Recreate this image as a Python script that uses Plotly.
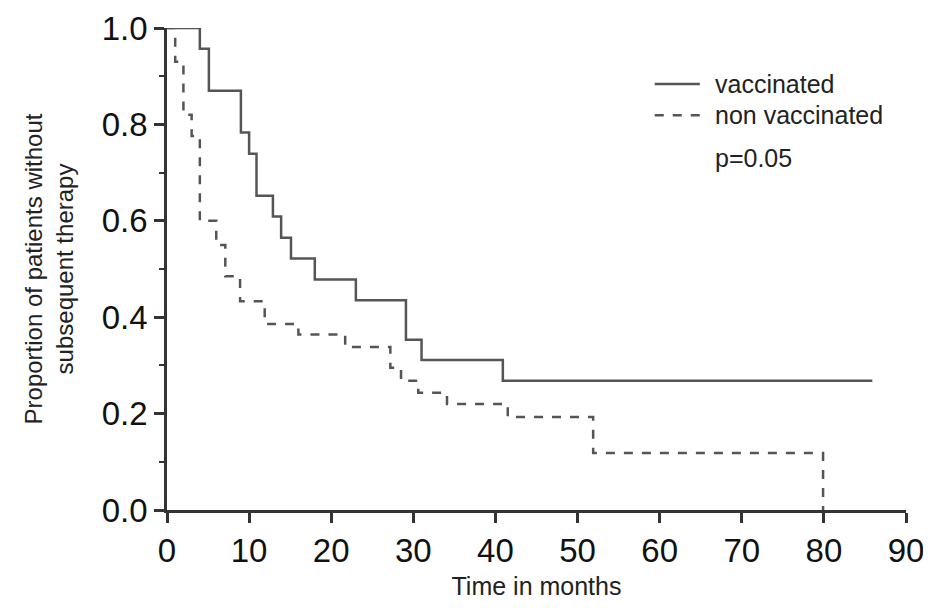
import plotly.graph_objects as go

# Kaplan-Meier step points (month, proportion)
vacc_t = [0, 4.0, 5.1, 9.0, 10.0, 10.9, 12.9, 13.9, 15.1, 18.0, 23.0, 29.1, 31.0, 40.9, 85.9]
vacc_s = [1.0, 0.957, 0.870, 0.783, 0.739, 0.652, 0.609, 0.565, 0.522, 0.478, 0.435, 0.353, 0.311, 0.268, 0.268]

nonv_t = [0, 1.0, 2.0, 3.0, 4.0, 6.0, 7.1, 8.9, 11.9, 16.0, 21.7, 27.2, 28.5, 30.6, 34.1, 41.5, 51.9, 79.9]
nonv_s = [1.0, 0.93, 0.82, 0.776, 0.60, 0.55, 0.485, 0.433, 0.386, 0.364, 0.338, 0.295, 0.268, 0.243, 0.22, 0.193, 0.118, 0.0]

font = 'Liberation Sans, Arial, sans-serif'
ink = '#555555'

fig = go.Figure()
fig.add_trace(go.Scatter(x=vacc_t, y=vacc_s, mode='lines', line_shape='hv',
                         name='vaccinated', line=dict(color=ink, width=2.5)))
fig.add_trace(go.Scatter(x=nonv_t, y=nonv_s, mode='lines', line_shape='hv',
                         name='non vaccinated', line=dict(color=ink, width=2.5, dash='dash')))

# hand-made legend
fig.add_shape(type='line', xref='paper', yref='paper', x0=0.660, x1=0.721, y0=0.884, y1=0.884,
              line=dict(color=ink, width=2.5))
fig.add_shape(type='line', xref='paper', yref='paper', x0=0.660, x1=0.721, y0=0.819, y1=0.819,
              line=dict(color=ink, width=2.5, dash='dash'))
for txt, yy in [('vaccinated', 0.884), ('non vaccinated', 0.819), ('p=0.05', 0.73)]:
    fig.add_annotation(text=txt, xref='paper', yref='paper', x=0.739, y=yy,
                       xanchor='left', yanchor='middle', showarrow=False,
                       font=dict(size=25, color='#222222', family=font))

fig.update_layout(
    width=931, height=611,
    plot_bgcolor='white', paper_bgcolor='white',
    margin=dict(l=159, r=33, t=20, b=109, autoexpand=False),
    font=dict(family=font, color='#222222'),
    showlegend=False,
    xaxis=dict(range=[0, 90], dtick=10, showgrid=False, zeroline=False, automargin=False,
               showline=True, linecolor='#333333', linewidth=2.5,
               ticks='outside', ticklen=10, tickwidth=2.5, tickcolor='#333333',
               tickfont=dict(size=33, color='#111111'),
               title=dict(text='Time in months', font=dict(size=25), standoff=10)),
    yaxis=dict(range=[0, 1], dtick=0.2, tickformat='.1f', showgrid=False, zeroline=False,
               automargin=False,
               showline=True, linecolor='#333333', linewidth=2.5,
               ticks='outside', ticklen=10, tickwidth=2.5, tickcolor='#333333',
               tickfont=dict(size=33, color='#111111'),
               minor=dict(dtick=0.1, ticks='outside', ticklen=5, tickwidth=2, tickcolor='#333333'),
               title=dict(text='Proportion of patients without<br>subsequent therapy',
                          font=dict(size=24), standoff=22)),
)

fig.write_html('out.html')
